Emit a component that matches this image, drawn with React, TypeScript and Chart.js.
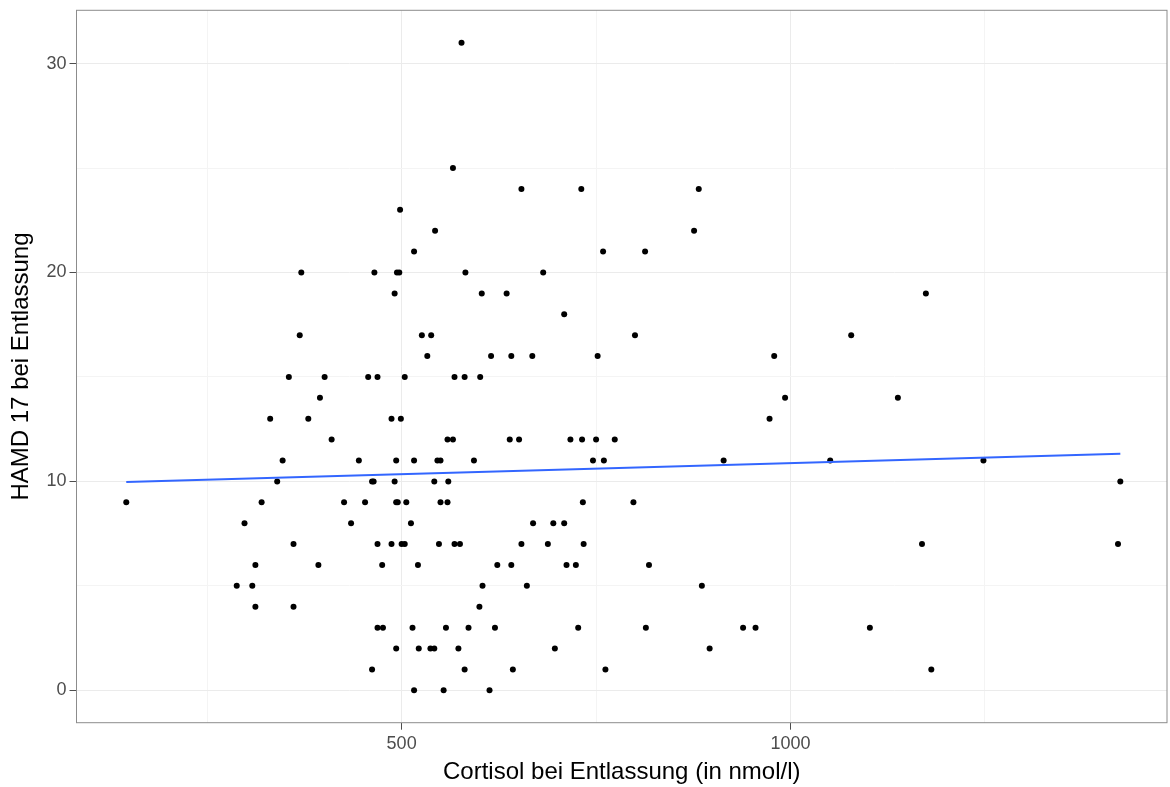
import React, { useEffect, useRef } from "react";
import { Chart, registerables } from "chart.js";

Chart.register(...registerables);

// HAMD 17 score levels and the cortisol values (nmol/l) observed at each level
const hamdScores = [31, 25, 24, 23, 22, 21, 20, 19, 18, 17, 16, 15, 14, 13, 12, 11, 10, 9, 8, 7, 6, 5, 4, 3, 2, 1, 0];
const cortisolAtScore: number[][] = [
  [577],
  [566],
  [654, 731, 882],
  [498],
  [543, 876],
  [516, 759, 813],
  [371, 465, 494, 497, 582, 682],
  [491, 603, 635, 1174],
  [709],
  [369, 526, 538, 800, 1078],
  [533, 615, 641, 668, 752, 979],
  [355, 401, 457, 469, 504, 568, 581, 601],
  [395, 993, 1138],
  [331, 380, 487, 499, 973],
  [410, 559, 566, 639, 651, 717, 732, 750, 774],
  [347, 445, 493, 516, 546, 550, 593, 746, 760, 914, 1051, 1248],
  [340, 462, 464, 491, 542, 560, 1424],
  [146, 320, 426, 453, 493, 495, 506, 550, 559, 733, 798],
  [298, 435, 512, 669, 695, 709],
  [361, 469, 487, 500, 504, 548, 568, 575, 654, 688, 734, 1169, 1421],
  [312, 393, 475, 521, 623, 641, 712, 724, 818],
  [288, 308, 604, 661, 886],
  [312, 361, 600],
  [469, 476, 514, 557, 586, 620, 727, 814, 939, 955, 1102],
  [493, 522, 537, 542, 573, 697, 896],
  [462, 581, 643, 762, 1181],
  [516, 554, 613],
];

// linear fit line
const trendX = [146, 1424];
const trendY = [9.97, 11.32];

// axes
const xGridValues = [250, 500, 750, 1000, 1250];
const xTickLabels = [500, 1000];
const yGridValues = [0, 5, 10, 15, 20, 25, 30];
const yTickLabels = [0, 10, 20, 30];
const xRange = [82, 1484];
const yRange = [-1.55, 32.55];

const xTitle = "Cortisol bei Entlassung (in nmol/l)";
const yTitle = "HAMD 17 bei Entlassung";

const FONT = "'Liberation Sans', Arial, Helvetica, sans-serif";

const panelBorder = {
  id: "panelBorder",
  afterDraw(chart: any) {
    const { ctx, chartArea } = chart;
    const { left, top, right, bottom } = chartArea;
    ctx.save();
    ctx.strokeStyle = "#8c8c8c";
    ctx.lineWidth = 1;
    ctx.strokeRect(left, top, right - left, bottom - top);
    ctx.restore();
  },
};

export default function App() {
  const canvasRef = useRef<HTMLCanvasElement | null>(null);

  useEffect(() => {
    if (!canvasRef.current) return;
    const points: { x: number; y: number }[] = [];
    hamdScores.forEach((score, i) => {
      cortisolAtScore[i].forEach((c) => points.push({ x: c, y: score }));
    });
    const trend = trendX.map((x, i) => ({ x, y: trendY[i] }));

    const isMajorX = (v: number) => xTickLabels.includes(v);
    const isMajorY = (v: number) => yTickLabels.includes(v);

    const chart = new Chart(canvasRef.current, {
      type: "scatter",
      data: {
        datasets: [
          {
            type: "line",
            data: trend,
            borderColor: "#3366FF",
            borderWidth: 2,
            pointRadius: 0,
            fill: false,
            order: 0,
          } as any,
          {
            type: "scatter",
            data: points,
            pointRadius: 3,
            pointBackgroundColor: "#000000",
            pointBorderWidth: 0,
            pointHoverRadius: 3,
            order: 1,
          } as any,
        ],
      },
      options: {
        animation: false,
        responsive: false,
        devicePixelRatio: 1,
        layout: { padding: { top: 10.3, right: 1, left: 0, bottom: 0 } },
        plugins: {
          legend: { display: false },
          tooltip: { enabled: false },
        },
        scales: {
          x: {
            type: "linear",
            min: xRange[0],
            max: xRange[1],
            afterBuildTicks: (s: any) => {
              s.ticks = xGridValues.map((v) => ({ value: v }));
            },
            afterFit: (s: any) => {
              s.height = 64.3;
              s.paddingLeft = 0;
              s.paddingRight = 0;
            },
            border: { display: false },
            grid: {
              color: (ctx: any) => (ctx.tick && isMajorX(ctx.tick.value) ? "#ebebeb" : "#f4f4f4"),
              lineWidth: 1,
              tickLength: 7,
              tickColor: (ctx: any) => (ctx.tick && isMajorX(ctx.tick.value) ? "#4d4d4d" : "rgba(0,0,0,0)"),
            },
            ticks: {
              autoSkip: false,
              maxRotation: 0,
              padding: 4,
              color: "#4d4d4d",
              font: { family: FONT, size: 18 },
              callback: (v: any) => (isMajorX(Number(v)) ? String(v) : ""),
            },
            title: {
              display: true,
              text: xTitle,
              color: "#000000",
              font: { family: FONT, size: 24 },
              padding: { top: 0, bottom: 0 },
            },
          },
          y: {
            type: "linear",
            min: yRange[0],
            max: yRange[1],
            afterBuildTicks: (s: any) => {
              s.ticks = yGridValues.map((v) => ({ value: v }));
            },
            afterFit: (s: any) => {
              s.width = 76.5;
              s.paddingTop = 0;
              s.paddingBottom = 0;
            },
            border: { display: false },
            grid: {
              color: (ctx: any) => (ctx.tick && isMajorY(ctx.tick.value) ? "#ebebeb" : "#f4f4f4"),
              lineWidth: 1,
              tickLength: 7,
              tickColor: (ctx: any) => (ctx.tick && isMajorY(ctx.tick.value) ? "#4d4d4d" : "rgba(0,0,0,0)"),
            },
            ticks: {
              autoSkip: false,
              padding: 3,
              color: "#4d4d4d",
              font: { family: FONT, size: 18 },
              callback: (v: any) => (isMajorY(Number(v)) ? String(v) : ""),
            },
            title: {
              display: true,
              text: yTitle,
              color: "#000000",
              font: { family: FONT, size: 24 },
              padding: { top: 7, bottom: 0 },
            },
          },
        },
      },
      plugins: [panelBorder],
    });
    return () => chart.destroy();
  }, []);

  return (
    <div style={{ position: "absolute", left: 0, top: 0, width: 1170, height: 787, background: "#ffffff" }}>
      <canvas ref={canvasRef} width={1170} height={787} style={{ display: "block" }} />
    </div>
  );
}
